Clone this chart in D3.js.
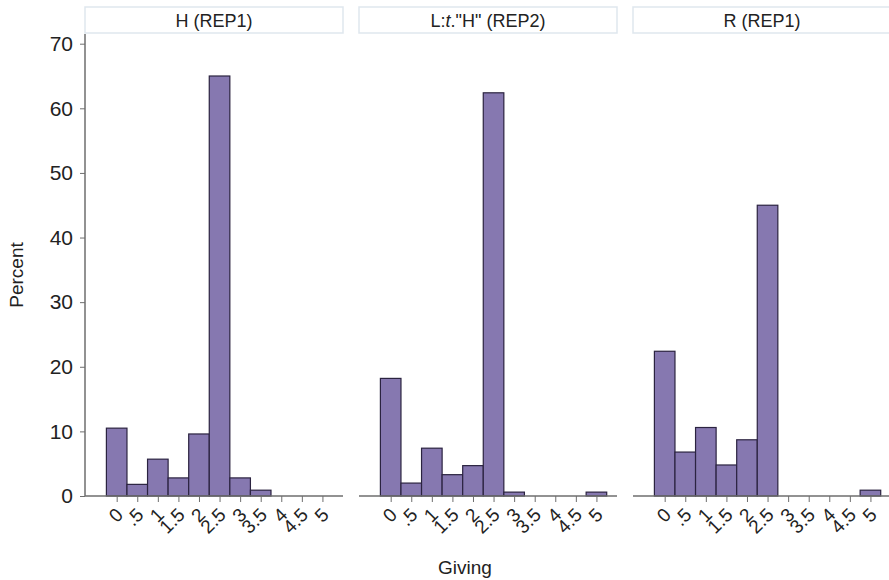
<!DOCTYPE html>
<html>
<head>
  <meta charset="utf-8">
  <title>Giving histograms</title>
  <script src="https://d3js.org/d3.v7.min.js"></script>
  <style>
    body { margin: 0; background: #fff; }
    svg { font-family: "Liberation Sans", Arial, sans-serif; }
    .bar { fill: #8678b0; stroke: #2b2340; stroke-width: 1.2px; }
    .strip { fill: #fff; stroke: #dfe7ee; stroke-width: 1.5px; }
    .axis path, .axis line { stroke: #6e6e6e; }
    .axis text { fill: #222; }
  </style>
</head>
<body>
  <svg></svg>
  <script>
    // data
    var giving = [0, 0.5, 1, 1.5, 2, 2.5, 3, 3.5, 4, 4.5, 5];
    var tickLabels = ["0", ".5", "1", "1.5", "2", "2.5", "3", "3.5", "4", "4.5", "5"];
    var panelNames = ["H (REP1)", "L:t.\"H\" (REP2)", "R (REP1)"];
    var hRep1 = [10.5, 1.8, 5.7, 2.8, 9.6, 65.0, 2.8, 0.9, 0, 0, 0];
    var lRep2 = [18.2, 2.0, 7.4, 3.3, 4.7, 62.4, 0.6, 0, 0, 0, 0.6];
    var rRep1 = [22.4, 6.8, 10.6, 4.8, 8.7, 45.0, 0, 0, 0, 0, 0.9];
    var yTicks = [0, 10, 20, 30, 40, 50, 60, 70];

    var series = [hRep1, lRep2, rRep1];

    // layout
    var svgWidth = 889, svgHeight = 580,
      panelX = [85, 359, 633],
      panelW = 258,
      plotTop = 34, plotBottom = 496,
      stripTop = 7, stripH = 26;

    var svg = d3.select("svg")
      .attr("width", svgWidth)
      .attr("height", svgHeight);

    var y = d3.scaleLinear().domain([0, 71.5]).range([plotBottom, plotTop]);
    var x = d3.scaleLinear().domain([-0.77, 5.5]).range([0, panelW]);
    var binW = x(0.5) - x(0);

    // y axis on the first panel only
    var yAxis = svg.append("g")
      .classed("axis", true)
      .attr("transform", "translate(" + panelX[0] + ",0)")
      .call(d3.axisLeft(y).tickValues(yTicks).tickSize(5).tickPadding(7).tickFormat(d3.format("d")));
    yAxis.select(".domain").attr("d", "M0," + plotTop + "V" + plotBottom).style("stroke-width", 1.5);
    yAxis.selectAll("text").style("font-size", "21px");

    series.forEach(function (vals, p) {
      var g = svg.append("g").attr("transform", "translate(" + panelX[p] + ",0)");

      // strip header
      g.append("rect")
        .classed("strip", true)
        .attr("x", 0).attr("y", stripTop)
        .attr("width", panelW).attr("height", stripH);
      var title = g.append("text")
        .attr("x", panelW / 2).attr("y", stripTop + stripH / 2 + 6.5)
        .attr("text-anchor", "middle")
        .style("font-size", "18px")
        .style("fill", "#222");
      if (p === 1) {
        title.append("tspan").text("L:");
        title.append("tspan").style("font-style", "italic").text("t");
        title.append("tspan").text(".\"H\" (REP2)");
      } else {
        title.text(panelNames[p]);
      }

      // bars
      g.selectAll(".bar")
        .data(giving.map(function (v, i) { return { g: v, pct: vals[i] }; })
          .filter(function (d) { return d.pct > 0; }))
        .enter()
        .append("rect")
        .classed("bar", true)
        .attr("x", function (d) { return x(d.g) - binW / 2; })
        .attr("width", binW)
        .attr("y", function (d) { return y(d.pct); })
        .attr("height", function (d) { return y(0) - y(d.pct); });

      // x axis
      var xAxis = g.append("g")
        .classed("axis", true)
        .attr("transform", "translate(0," + plotBottom + ")")
        .call(d3.axisBottom(x).tickValues(giving).tickSize(6)
          .tickFormat(function (d, i) { return tickLabels[i]; }));
      xAxis.select(".domain").attr("d", "M0,0H" + panelW).style("stroke-width", 1.5);
      xAxis.selectAll("text")
        .style("font-size", "19px")
        .attr("text-anchor", "end")
        .attr("x", 0).attr("y", 0).attr("dy", 0)
        .attr("transform", "translate(7,20) rotate(-45)");
    });

    // axis titles
    svg.append("text")
      .attr("transform", "translate(23,275) rotate(-90)")
      .attr("text-anchor", "middle")
      .style("font-size", "19px")
      .style("fill", "#222")
      .text("Percent");

    svg.append("text")
      .attr("x", 465).attr("y", 574)
      .attr("text-anchor", "middle")
      .style("font-size", "19px")
      .style("fill", "#222")
      .text("Giving");
  </script>
</body>
</html>
